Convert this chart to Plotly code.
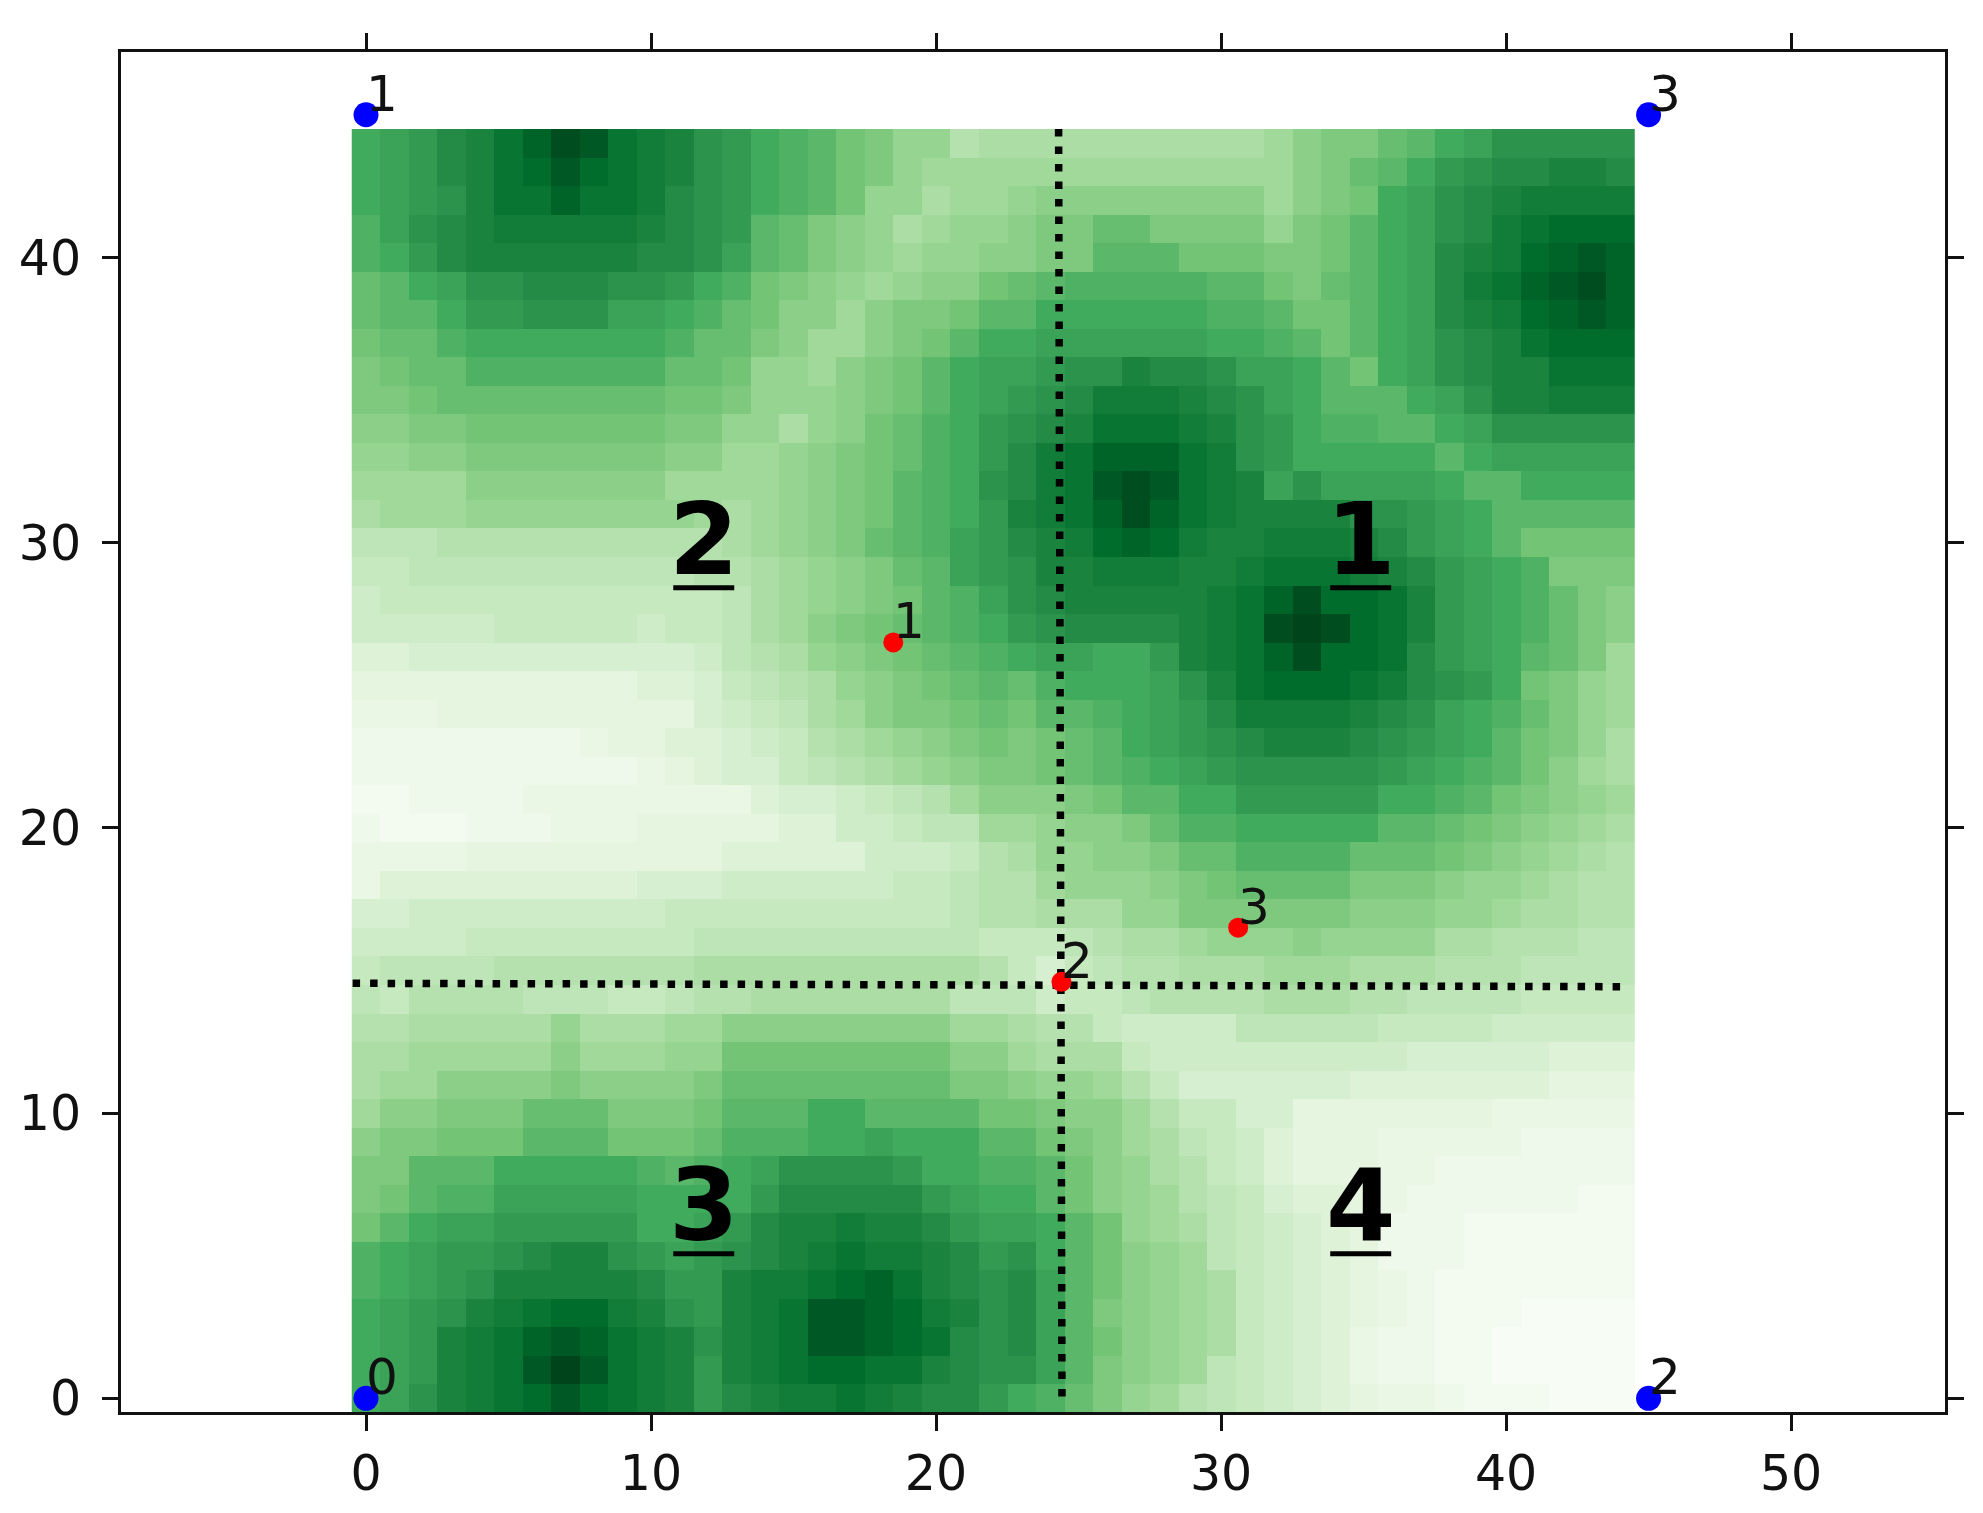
import plotly.graph_objects as go

# Cell intensities on a 0-32 scale, rows listed from y=44 (top) to y=0 (bottom)
grid_rows = [
[20,21,22,24,25,27,29,31,30,27,26,25,23,22,20,19,18,16,15,13,13,10,11, 11,11,11,11,11,11,11,11,11,12,14,15,15,17,18,20,21,23,23,23,23,23],
[20,21,22,24,25,27,28,30,28,27,26,25,23,22,20,19,18,16,15,13,12,12,12, 12,12,12,12,12,12,12,12,12,12,14,15,17,18,20,22,23,24,24,25,25,24],
[20,21,22,23,25,27,27,29,27,27,26,24,23,22,20,19,18,16,13,13,11,12,12, 13,14,14,14,14,14,14,14,14,12,14,15,16,20,21,23,24,25,26,26,26,26],
[19,21,23,24,25,26,26,26,26,26,25,24,23,22,18,17,15,14,13,11,12,13,13, 14,15,15,17,17,15,15,15,15,13,15,16,18,20,21,23,24,26,27,28,28,28],
[19,20,22,24,25,25,25,25,25,25,24,24,23,21,18,17,15,14,13,12,13,13,14, 14,15,15,18,18,18,16,16,16,15,15,16,18,20,21,24,25,26,28,29,30,29],
[17,18,20,21,23,23,24,24,24,23,23,22,20,19,16,15,14,13,12,13,14,14,16, 17,18,19,19,19,19,19,18,18,16,15,17,18,20,21,24,26,27,29,30,31,29],
[17,18,18,20,22,22,23,23,23,21,21,20,19,17,16,14,14,12,14,15,15,16,18, 18,20,20,20,20,20,20,19,19,18,16,16,18,20,21,24,25,26,28,29,30,29],
[16,17,17,19,20,20,20,20,20,20,20,19,17,17,15,14,12,12,14,15,16,18,20, 20,21,21,21,21,21,21,20,20,19,18,16,18,20,21,23,24,25,27,28,28,28],
[15,16,17,17,19,19,19,19,19,19,19,17,17,16,13,13,12,14,15,16,18,20,21, 21,22,23,23,25,24,24,23,21,21,20,18,16,20,21,23,24,25,25,27,27,27],
[15,15,16,17,17,17,17,17,17,17,17,16,16,15,13,13,13,14,15,16,18,20,21, 22,23,24,26,26,26,25,24,23,21,20,18,18,18,20,21,23,25,25,26,26,26],
[14,14,15,15,16,16,16,16,16,16,16,15,15,13,13,11,13,14,16,17,19,20,22, 23,24,25,27,27,27,26,25,23,22,20,19,19,18,18,20,21,23,23,23,23,23],
[13,13,14,14,15,15,15,15,15,15,15,14,14,12,12,13,14,15,16,17,19,20,22, 24,26,27,29,29,29,27,26,23,22,20,20,20,20,20,18,20,21,21,21,21,21],
[12,12,12,12,14,14,14,14,14,14,14,12,12,12,12,13,14,15,16,18,19,20,23, 24,26,27,30,31,30,27,26,25,21,23,21,21,21,21,20,18,18,20,20,20,20],
[11,12,12,12,13,13,13,13,13,13,13,13,12,11,12,13,14,15,16,18,19,20,22, 25,26,27,29,31,29,27,26,25,25,25,25,23,23,22,21,20,18,18,18,18,18],
[9,9,9,10,10,10,10,10,10,10,10,10,10,11,12,13,14,15,17,18,19,21,22, 24,25,26,28,29,28,26,25,25,26,26,26,25,24,22,21,20,18,16,16,16,16],
[8,8,9,9,9,9,9,9,9,9,9,9,10,10,11,12,13,14,15,17,18,21,22, 23,25,25,26,26,26,25,25,26,27,27,27,26,25,24,22,21,20,19,15,15,15],
[7,8,8,8,8,8,8,8,8,8,8,8,8,9,11,12,13,14,15,16,18,19,21, 23,24,25,25,25,25,25,26,27,29,31,28,28,27,25,22,21,20,19,17,15,14],
[7,7,7,7,7,8,8,8,8,8,7,8,8,9,11,12,14,15,16,17,18,19,20, 22,23,24,24,24,24,25,26,27,31,32,31,28,27,25,22,21,20,19,17,15,14],
[5,5,6,6,6,6,6,6,6,6,6,6,7,9,10,11,13,14,15,16,17,18,19, 20,21,21,20,20,22,25,26,27,29,31,28,28,27,24,22,21,20,18,17,15,12],
[4,4,4,4,4,4,4,4,4,4,5,5,6,8,9,10,11,13,14,15,16,17,18, 17,19,20,20,20,21,23,25,27,28,28,28,27,26,24,23,22,20,16,15,13,12],
[3,3,3,4,4,4,4,4,4,4,4,4,6,7,8,9,11,12,14,15,15,16,17, 16,18,18,19,20,21,22,24,26,26,26,26,25,24,23,21,20,19,17,15,13,12],
[2,2,2,2,2,2,2,2,3,4,4,5,5,6,7,8,10,11,12,13,14,15,16, 15,16,17,18,20,21,22,23,24,25,25,25,24,23,22,21,20,18,16,15,13,11],
[2,2,2,2,2,2,2,2,2,2,3,4,5,6,6,8,9,10,11,12,13,14,15, 15,16,17,18,19,20,21,22,23,23,23,23,23,22,21,20,19,18,16,14,12,11],
[1,1,2,2,2,2,3,3,3,3,3,3,3,3,5,6,6,7,8,9,10,12,14, 14,14,15,16,18,18,20,20,22,22,22,22,22,20,20,19,18,16,15,14,13,12],
[2,1,1,1,2,2,2,3,3,3,4,4,4,4,4,5,5,7,7,8,9,9,12, 12,13,14,14,15,17,19,19,20,20,20,20,20,18,18,17,16,15,14,13,12,11],
[3,3,3,3,4,4,4,4,4,4,4,4,4,5,5,5,5,5,7,7,7,8,10, 11,13,13,14,14,15,17,17,19,19,19,19,17,17,17,16,15,14,13,12,11,10],
[3,5,5,5,5,5,5,5,5,5,6,6,6,7,7,7,7,7,7,8,8,9,10, 10,12,13,13,13,14,15,16,17,17,17,17,15,15,15,14,13,13,12,11,10,10],
[6,6,7,7,7,7,7,7,7,7,7,8,8,8,8,8,8,8,8,8,8,9,10, 10,11,11,11,13,13,15,15,15,15,15,15,14,14,14,13,13,12,11,11,10,10],
[7,7,7,7,8,8,8,8,8,8,8,8,9,9,9,9,9,9,9,9,9,9,8, 8,8,9,10,11,11,12,13,13,13,14,13,13,13,13,11,11,10,10,10,9,9],
[8,9,9,9,9,10,10,10,10,10,10,10,11,11,11,11,11,11,11,11,11,11,10, 8,6,8,9,10,10,11,11,11,12,12,12,11,11,11,10,10,10,9,9,9,9],
[9,8,10,10,10,10,9,9,9,8,8,9,10,10,11,11,11,11,11,11,11,9,9, 9,7,8,8,9,10,10,10,10,11,11,11,10,10,9,9,9,9,8,8,8,8],
[10,10,11,11,11,11,11,13,11,11,11,12,12,14,14,14,14,14,14,14,14,12,12, 11,10,10,8,7,7,7,7,9,9,9,9,9,8,8,8,8,7,7,7,7,7],
[11,11,12,12,12,12,12,14,12,12,12,13,13,16,16,16,16,16,16,16,16,14,14, 12,11,11,11,8,7,7,7,7,7,7,7,7,7,6,6,6,6,6,5,5,5],
[11,12,12,14,14,14,14,15,14,14,14,14,15,17,17,17,17,17,17,17,17,15,15, 14,13,13,12,10,8,6,6,6,6,6,6,5,5,5,5,5,5,5,4,4,4],
[12,14,14,15,15,15,17,17,17,15,15,15,16,18,18,18,20,20,18,18,18,18,16, 16,15,14,14,12,10,8,8,6,6,4,4,4,4,4,4,4,3,3,3,3,3],
[14,15,15,16,16,16,18,18,18,16,16,16,17,19,19,19,20,20,21,20,20,20,18, 18,16,15,14,12,11,9,8,7,5,4,4,4,3,3,3,3,3,2,2,2,2],
[15,15,18,18,18,20,20,20,20,20,19,18,19,20,21,23,23,23,23,22,20,20,19, 19,18,16,14,13,11,10,8,7,5,4,4,4,3,3,2,2,2,2,2,2,2],
[15,16,18,19,19,21,21,21,21,21,20,20,20,20,22,24,24,24,24,24,22,21,20, 20,18,16,14,13,12,10,9,8,6,5,5,4,3,2,2,2,2,2,2,1,1],
[16,18,20,21,21,22,22,22,22,22,20,20,21,22,24,25,25,26,25,25,24,22,21, 21,20,18,16,13,12,11,9,8,7,6,5,4,2,2,2,1,1,1,1,1,1],
[19,20,21,22,22,23,24,25,25,23,22,21,22,23,24,25,26,27,26,26,25,24,22, 23,20,18,16,14,13,12,9,8,7,6,5,4,2,2,2,1,1,1,1,1,1],
[19,20,21,22,23,25,25,25,25,25,24,22,22,25,26,26,27,28,29,27,25,24,23, 24,21,18,16,14,13,12,11,8,7,6,5,4,3,2,1,1,1,1,1,1,1],
[20,21,22,23,25,26,27,28,28,26,25,23,22,25,26,27,30,30,29,28,26,25,23, 24,21,18,15,14,13,12,11,8,7,6,5,4,3,2,1,1,1,0,0,0,0],
[20,21,22,25,26,27,29,30,29,27,26,25,23,25,26,27,30,30,29,28,27,24,23, 24,21,18,16,14,13,12,11,8,7,6,5,3,2,2,1,1,0,0,0,0,0],
[20,21,22,25,26,27,30,32,30,27,26,25,22,25,26,27,28,28,27,27,25,24,23, 23,21,18,15,14,13,12,9,8,7,6,5,3,2,2,1,1,0,0,0,0,0],
[20,21,23,25,26,27,28,30,28,27,26,25,22,24,25,26,26,27,26,25,24,24,22, 20,19,17,15,13,12,10,9,8,7,6,5,4,3,3,2,1,1,1,0,0,0],
]
cell_x = list(range(45))
cell_y = list(range(44, -1, -1))
green_stops = ["#f7fcf5", "#e5f5e0", "#c7e9c0", "#a1d99b", "#74c476",
               "#41ab5d", "#238b45", "#006d2c", "#00441b"]

corner_x = [0, 0, 45, 45]
corner_y = [0, 45, 0, 45]
corner_labels = ["0", "1", "2", "3"]

centre_x = [18.5, 24.4, 30.6]
centre_y = [26.5, 14.6, 16.5]
centre_labels = ["1", "2", "3"]

split_v_x = [24.3, 24.42]
split_v_y = [44.5, -0.17]
split_h_x = [-0.47, 44.3]
split_h_y = [14.55, 14.43]

region_x = [34.9, 11.85, 11.85, 34.9]
region_y = [28.85, 28.85, 5.5, 5.5]
region_labels = ["1", "2", "3", "4"]
underline_half_width = 1.07
underline_drop = 0.43

tick_values = [0, 10, 20, 30, 40, 50]

FONT = "DejaVu Sans"
INK = "#111111"

fig = go.Figure()
fig.add_trace(go.Heatmap(
    x=cell_x, y=cell_y, z=grid_rows, zmin=0, zmax=32, showscale=False,
    colorscale=[[i / 8, c] for i, c in enumerate(green_stops)],
    hoverinfo="skip"))

dots = dict(color="black", width=7.5, dash="7.5px,10px")
fig.add_trace(go.Scatter(x=split_v_x, y=split_v_y, mode="lines", line=dots, showlegend=False))
fig.add_trace(go.Scatter(x=split_h_x, y=split_h_y, mode="lines", line=dots, showlegend=False))

fig.add_trace(go.Scatter(x=corner_x, y=corner_y, mode="markers", showlegend=False,
                         marker=dict(color="#0000ff", size=25), cliponaxis=False))
fig.add_trace(go.Scatter(x=centre_x, y=centre_y, mode="markers", showlegend=False,
                         marker=dict(color="#ff0000", size=20), cliponaxis=False))

annotations = []
for xs, ys, labels in [(corner_x, corner_y, corner_labels), (centre_x, centre_y, centre_labels)]:
    for x, y, t in zip(xs, ys, labels):
        annotations.append(dict(x=x, y=y, text=t, showarrow=False, xanchor="left", yanchor="bottom",
                                xshift=-2, yshift=-10, font=dict(family=FONT, size=50, color=INK)))
for x, y, t in zip(region_x, region_y, region_labels):
    annotations.append(dict(x=x, y=y, text=f"<b>{t}</b>", showarrow=False, xanchor="center",
                            yanchor="bottom", yshift=-25, font=dict(family=FONT, size=100, color="black")))

shapes = [dict(type="line", xref="x", yref="y", x0=x - underline_half_width, x1=x + underline_half_width,
               y0=y - underline_drop, y1=y - underline_drop, line=dict(color="black", width=5))
          for x, y in zip(region_x, region_y)]

axis_style = dict(showgrid=False, zeroline=False, showline=True, mirror="ticks", linecolor="#111111",
                  linewidth=3, ticks="outside", ticklen=16, tickwidth=3, tickcolor="#111111",
                  tickmode="array", tickvals=tick_values, ticktext=[str(v) for v in tick_values],
                  tickfont=dict(family=FONT, size=49, color=INK))

fig.update_layout(
    width=1983, height=1513, autosize=False, showlegend=False,
    paper_bgcolor="white", plot_bgcolor="white",
    margin=dict(l=121, r=38, t=52, b=101),
    xaxis=dict(range=[-8.596, 55.40], **axis_style),
    yaxis=dict(range=[-0.48, 47.2], **axis_style),
    annotations=annotations, shapes=shapes)
fig.update_yaxes(tickvals=tick_values[:-1], ticktext=[str(v) for v in tick_values[:-1]], ticklabelstandoff=11)

fig.write_html("out.html", config={"displayModeBar": False},
               post_script="document.body.style.margin='0';document.body.style.overflow='hidden';")
